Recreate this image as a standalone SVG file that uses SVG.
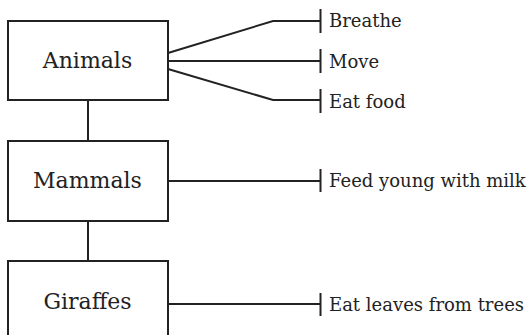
<svg xmlns="http://www.w3.org/2000/svg" width="532" height="335" viewBox="0 0 532 335">
<style>
.box{fill:#fff;stroke:#222;stroke-width:2}
.ln{fill:none;stroke:#222;stroke-width:2}
.t{font-family:"DejaVu Serif","Liberation Serif",serif;fill:#222}
.nt{font-size:22px;text-anchor:middle}
.lt{font-size:18px}
</style>
<rect width="532" height="335" fill="#fff"/>
<g id="connectors">
<line class="ln" x1="88" y1="100" x2="88" y2="141"/>
<line class="ln" x1="88" y1="221" x2="88" y2="261"/>
<polyline class="ln" points="168,53 273,21 320.5,21"/>
<line class="ln" x1="320.5" y1="9" x2="320.5" y2="33"/>
<line class="ln" x1="168" y1="61" x2="320.5" y2="61"/>
<line class="ln" x1="320.5" y1="49" x2="320.5" y2="73"/>
<polyline class="ln" points="168,69 273,100 320.5,100"/>
<line class="ln" x1="320.5" y1="89" x2="320.5" y2="113"/>
<line class="ln" x1="168" y1="181" x2="320.5" y2="181"/>
<line class="ln" x1="320.5" y1="169" x2="320.5" y2="192"/>
<line class="ln" x1="168" y1="304" x2="320.5" y2="304"/>
<line class="ln" x1="320.5" y1="293" x2="320.5" y2="316"/>
</g>
<g id="animals">
<rect class="box" x="8" y="21" width="160" height="79"/>
<text class="t nt" x="87.5" y="68">Animals</text>
</g>
<g id="mammals">
<rect class="box" x="8" y="141" width="160" height="80"/>
<text class="t nt" x="87.5" y="188">Mammals</text>
</g>
<g id="giraffes">
<rect class="box" x="8" y="261" width="160" height="100"/>
<text class="t nt" x="87.5" y="309">Giraffes</text>
</g>
<g id="labels">
<text class="t lt" x="329" y="27">Breathe</text>
<text class="t lt" x="329" y="68">Move</text>
<text class="t lt" x="329" y="108">Eat food</text>
<text class="t lt" x="329" y="187">Feed young with milk</text>
<text class="t lt" x="329" y="311">Eat leaves from trees</text>
</g>
</svg>
